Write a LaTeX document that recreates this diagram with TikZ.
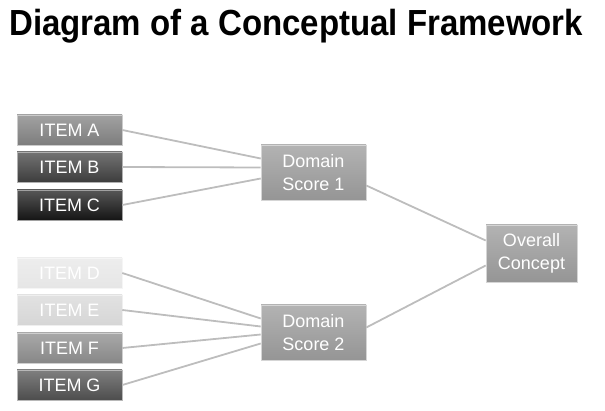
\documentclass[tikz,border=0pt]{standalone}
\usepackage{fontspec}
\setmainfont{Liberation Sans}
\usepackage{tikz}
\usetikzlibrary{calc,shadows}
\definecolor{linkgray}{HTML}{BDBDBD}
\definecolor{itemA}{HTML}{7D7D7D}
\definecolor{itemB}{HTML}{3D3D3D}
\definecolor{itemC}{HTML}{151515}
\definecolor{itemD}{HTML}{E6E6E6}
\definecolor{itemE}{HTML}{D6D6D6}
\definecolor{itemF}{HTML}{878787}
\definecolor{itemG}{HTML}{4D4D4D}
\definecolor{scoregray}{HTML}{959595}
\tikzset{
  box/.style={rectangle, draw=white!60!#1, line width=0.6pt, top color=#1!72!white,
              bottom color=#1, text=white, inner sep=1pt,
              drop shadow={shadow xshift=1.2pt, shadow yshift=-1.5pt, opacity=0.3}},
  item/.style={box=#1, minimum width=105pt, minimum height=30pt,
               font=\fontsize{18}{22}\selectfont},
  score/.style={box=#1, minimum width=105pt, minimum height=55pt, align=center,
                font=\fontsize{18}{23}\selectfont},
  link/.style={draw=linkgray, line width=1.8pt},                      % connector
}
\begin{document}
\begin{tikzpicture}[x=1pt, y=-1pt]
  \useasboundingbox (0,0) rectangle (605,411);
  \node[anchor=base west, font=\fontsize{33}{36}\bfseries\selectfont, inner sep=0pt]
    (title) at (9,36) {\scalebox{1}[1.1]{Diagram of a Conceptual Framework}};
  % items
  \node[item=itemA] (ia) at (69.5,130) {ITEM A};
  \node[item=itemB] (ib) at (69.5,167) {ITEM B};
  \node[item=itemC] (ic) at (69.5,205) {ITEM C};
  \node[item=itemD] (id) at (69.5,273) {ITEM D};
  \node[item=itemE] (ie) at (69.5,310) {ITEM E};
  \node[item=itemF] (if) at (69.5,348) {ITEM F};
  \node[item=itemG] (ig) at (69.5,385) {ITEM G};
  % scores
  \node[score=scoregray] (ds1) at (313.5,172.5) {Domain\\Score 1};
  \node[score=scoregray] (ds2) at (313.5,332.5) {Domain\\Score 2};
  \node[score=scoregray, minimum width=91pt, minimum height=57pt]
    (oc) at (531.5,253.5) {Overall\\Concept};
  % links
  \foreach \u/\d in {ia/-14,ib/-5,ic/6}
    \draw[link] (\u.east) -- ($(ds1.west)+(0,\d)$);
  \foreach \u/\d in {id/-14,ie/-6,if/2,ig/11}
    \draw[link] (\u.east) -- ($(ds2.west)+(0,\d)$);
  \draw[link] ($(ds1.east)+(0,13)$) -- ($(oc.west)+(0,-13)$);
  \draw[link] ($(ds2.east)+(0,-5)$) -- ($(oc.west)+(0,12)$);
\end{tikzpicture}
\end{document}
